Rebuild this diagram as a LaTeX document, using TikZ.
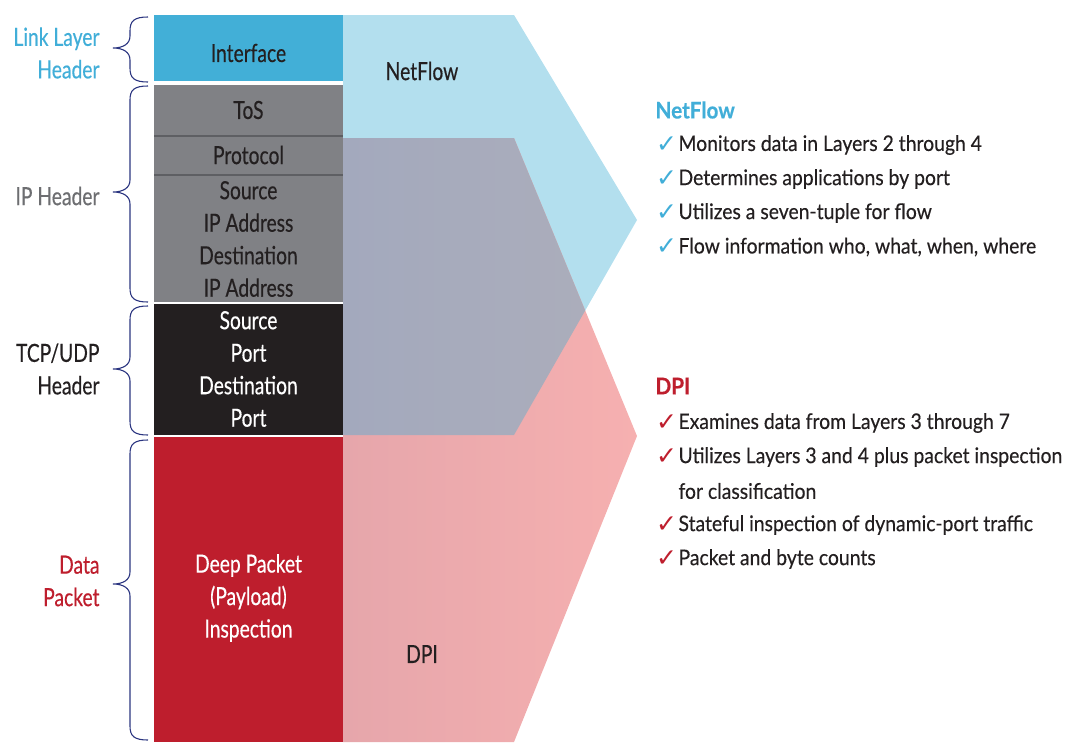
\documentclass[tikz,border=0pt]{standalone}
\usepackage{fontspec}
\setmainfont{Lato}[FakeStretch=0.77, FakeBold=0.35]
\newfontfamily\rfont{Lato}[FakeStretch=0.9, FakeBold=0.35]
\newfontfamily\symfont{DejaVu Sans}
\definecolor{ink}{HTML}{231F20}
\definecolor{nfcyan}{HTML}{41AED8}
\definecolor{cyanblk}{HTML}{42AFD7}
\definecolor{grayblk}{HTML}{808185}
\definecolor{sepgray}{HTML}{5E5F63}
\definecolor{redblk}{HTML}{BE1E2D}
\definecolor{nfblue}{HTML}{B3DFEE}
\definecolor{pinkL}{HTML}{E6A6AB}
\definecolor{pinkR}{HTML}{F6B0B0}
\definecolor{ovL}{HTML}{A3A9BD}
\definecolor{ovR}{HTML}{ABADBB}
\definecolor{navy}{HTML}{2B3580}
\definecolor{iplbl}{HTML}{6D6E71}
\newcommand\drawbrace[3]{%
  \draw[brc] (148,#1) .. controls (134,#1) and (130,{#1+4}) .. (130,{#1+14})
    -- (130,{#3-12}) .. controls (130,{#3-4}) and (123,#3) .. (113,#3)
    .. controls (123,#3) and (130,{#3+4}) .. (130,{#3+12})
    -- (130,{#2-14}) .. controls (130,{#2-4}) and (134,#2) .. (148,#2);}
\begin{document}
\begin{tikzpicture}[x=1pt,y=-1pt,
  lbl/.style={font=\fontsize{25}{32.5}\selectfont, align=right, anchor=east},
  stk/.style={font=\fontsize{25}{32.5}\selectfont, text=ink, align=center},
  stkw/.style={stk, text=white},
  head/.style={font=\fontsize{23}{28}\selectfont\rfont\bfseries, anchor=west},
  bul/.style={font=\fontsize{21.5}{26}\selectfont\rfont, anchor=west, text=ink},
  chk/.style={font=\fontsize{25}{26}\selectfont\symfont, anchor=west, inner sep=0pt},
  brc/.style={draw=navy, line width=1.1pt},
]
\useasboundingbox (0,0) rectangle (1066,742);
% flow shapes
\coordinate (nfA) at (343,15);
\coordinate (nfB) at (514,15);
\coordinate (nfT) at (637,220);
\coordinate (nfC) at (514,435);
\coordinate (nfD) at (343,435);
\coordinate (dpA) at (343,138);
\coordinate (dpB) at (514,138);
\coordinate (dpT) at (637,436);
\coordinate (dpC) at (514,742);
\coordinate (dpD) at (343,742);
\fill[nfblue] (nfA) -- (nfB) -- (nfT) -- (nfC) -- (nfD) -- cycle;
\shade[left color=pinkL, right color=pinkR] (dpA) -- (dpB) -- (dpT) -- (dpC) -- (dpD) -- cycle;
\coordinate (X) at (intersection of nfT--nfC and dpB--dpT);
\shade[left color=ovL, right color=ovR] (dpA) -- (dpB) -- (X) -- (nfC) -- (nfD) -- cycle;
% stack
\fill[cyanblk] (154,15) rectangle (343,81);
\fill[grayblk] (154,85) rectangle (343,302);
\draw[sepgray, line width=1.6pt] (154,136) -- (343,136);
\draw[sepgray, line width=1.6pt] (154,175) -- (343,175);
\fill[ink] (154,304) rectangle (343,435);
\fill[redblk] (154,437) rectangle (343,742);
% stack texts
\node[stk] (iface) at (248.5,53) {Interface};
\node[stk] (tos) at (248.5,110) {ToS};
\node[stk] (proto) at (248.5,155) {Protocol};
\node[stk] (ipaddr) at (248.5,239) {Source\\IP Address\\Destination\\IP Address};
\node[stkw] (ports) at (248.5,369) {Source\\Port\\Destination\\Port};
\node[stkw] (dpi) at (248.5,598) {Deep Packet\\(Payload)\\Inspection};
\node[stk] (nflbl) at (422,71) {NetFlow};
\node[stk] (dplbl) at (422,654) {DPI};
% braces
\drawbrace{17}{82}{48}
\drawbrace{86}{302}{192}
\drawbrace{306}{435}{369}
\drawbrace{440}{740}{584}
% left labels
\node[lbl, text=nfcyan] (llh) at (103,53) {Link Layer\\Header};
\node[lbl, text=iplbl] (iph) at (103,196) {IP Header};
\node[lbl, text=ink] (tcph) at (103,369) {TCP/UDP\\Header};
\node[lbl, text=redblk] (datap) at (103,581) {Data\\Packet};
% right list
\node[head, text=nfcyan] (nfh) at (652,110) {NetFlow};
\node[chk, text=nfcyan] (c1) at (656,145) {✓};
\node[bul] (b1) at (675,145) {Monitors data in Layers 2 through 4};
\node[chk, text=nfcyan] (c2) at (656,179) {✓};
\node[bul] (b2) at (675,179) {Determines applications by port};
\node[chk, text=nfcyan] (c3) at (656,213) {✓};
\node[bul] (b3) at (675,213) {Utilizes a seven-tuple for flow};
\node[chk, text=nfcyan] (c4) at (656,247) {✓};
\node[bul] (b4) at (675,247) {Flow information who, what, when, where};
\node[head, text=redblk] (dph) at (652,386) {DPI};
\node[chk, text=redblk] (d1) at (656,423) {✓};
\node[bul] (e1) at (675,423) {Examines data from Layers 3 through 7};
\node[chk, text=redblk] (d2) at (656,457) {✓};
\node[bul] (e2) at (675,457) {Utilizes Layers 3 and 4 plus packet inspection};
\node[bul] (e2b) at (675,491) {for classification};
\node[chk, text=redblk] (d3) at (656,525) {✓};
\node[bul] (e3) at (675,525) {Stateful inspection of dynamic-port traffic};
\node[chk, text=redblk] (d4) at (656,559) {✓};
\node[bul] (e4) at (675,559) {Packet and byte counts};
\end{tikzpicture}
\end{document}
